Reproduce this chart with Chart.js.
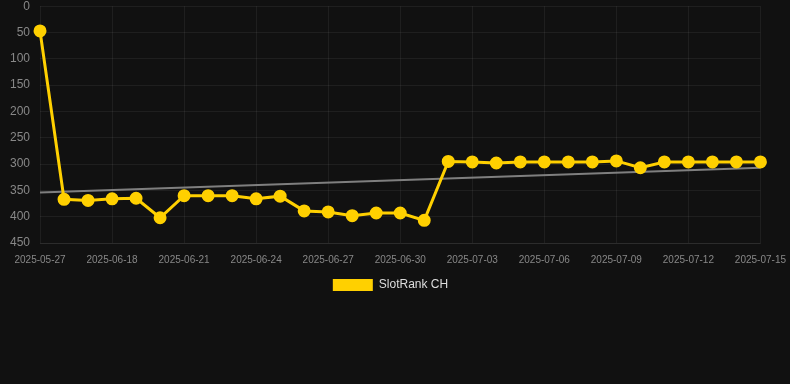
<!DOCTYPE html>
<html>
<head>
<meta charset="utf-8">
<script src="https://cdn.jsdelivr.net/npm/chart.js@4/dist/chart.umd.min.js"></script>
<style>
html,body{margin:0;padding:0;background:#111111;overflow:hidden;width:790px;}
#wrap{position:relative;width:797px;height:312px;margin-top:-11px;}
</style>
</head>
<body>
<div id="wrap"><canvas id="c"></canvas></div>
<script>
const categories = ["2025-05-27","2025-06-16","2025-06-17","2025-06-18","2025-06-19","2025-06-20","2025-06-21","2025-06-22","2025-06-23","2025-06-24","2025-06-25","2025-06-26","2025-06-27","2025-06-28","2025-06-29","2025-06-30","2025-07-01","2025-07-02","2025-07-03","2025-07-04","2025-07-05","2025-07-06","2025-07-07","2025-07-08","2025-07-09","2025-07-10","2025-07-11","2025-07-12","2025-07-13","2025-07-14","2025-07-15"];
const rankCH = [47,367,369,366,365,402,360,360,360,366,361,389,391,398,393,393,407,295,296,298,296,296,296,296,294,307,296,296,296,296,296];
const trendStart = 354;
const trendEnd = 307;
const trend = categories.map((c,i)=> i===0 ? trendStart : (i===categories.length-1 ? trendEnd : null));
const yTicks = [0,50,100,150,200,250,300,350,400,450];

const legendShift = {
  id: 'legendShift',
  afterLayout(chart) {
    if (chart.legend) { chart.legend.left -= 8; chart.legend.right -= 8; }
  }
};

new Chart(document.getElementById('c'), {
  type: 'line',
  data: {
    labels: categories,
    datasets: [
      {
        label: 'SlotRank CH',
        data: rankCH,
        borderColor: 'rgb(255,208,0)',
        backgroundColor: 'rgb(255,208,0)',
        borderWidth: 3,
        pointRadius: 5,
        pointHoverRadius: 5,
        tension: 0
      },
      {
        label: 'trend',
        data: trend,
        borderColor: 'rgba(140,140,140,0.9)',
        borderWidth: 2,
        pointRadius: 0,
        spanGaps: true,
        tension: 0
      }
    ]
  },
  plugins: [legendShift],
  options: {
    responsive: true,
    maintainAspectRatio: false,
    animation: false,
    layout: { padding: 0 },
    plugins: {
      legend: {
        position: 'bottom',
        labels: {
          color: '#dddddd',
          font: { family: 'Liberation Sans, Arial, sans-serif', size: 12 },
          boxWidth: 40,
          boxHeight: 12,
          padding: 2,
          generateLabels: (chart) => Chart.defaults.plugins.legend.labels.generateLabels(chart)
            .filter(it => it.text !== 'trend')
            .map(it => Object.assign(it, { lineWidth: 0 }))
        }
      },
      tooltip: { enabled: false }
    },
    scales: {
      x: {
        offset: false,
        grid: { color: 'rgba(255,255,255,0.06)', drawTicks: false },
        border: { color: 'rgba(255,255,255,0.06)' },
        ticks: {
          color: '#888888',
          font: { family: 'Liberation Sans, Arial, sans-serif', size: 10 },
          maxRotation: 0,
          autoSkip: false,
          padding: 11,
          callback: function(v, i) { return i % 3 === 0 ? categories[i] : null; }
        }
      },
      y: {
        reverse: true,
        min: 0,
        max: 450,
        afterBuildTicks: (axis) => { axis.ticks = yTicks.map(v => ({ value: v })); },
        grid: { color: 'rgba(255,255,255,0.06)', drawTicks: false },
        border: { display: false },
        ticks: {
          color: '#888888',
          font: { family: 'Liberation Sans, Arial, sans-serif', size: 12 },
          padding: 10
        }
      }
    }
  }
});
</script>
</body>
</html>
